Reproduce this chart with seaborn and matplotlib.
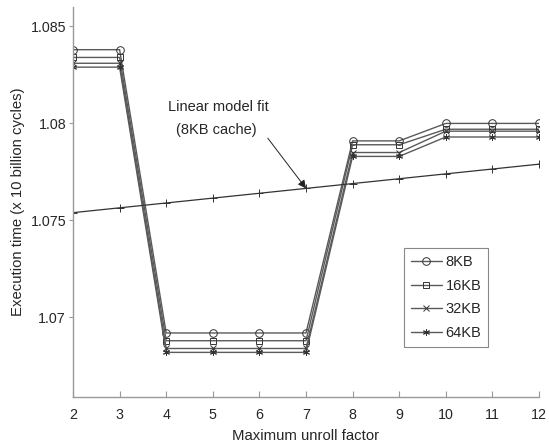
import numpy as np
import pandas as pd
import matplotlib
matplotlib.use("Agg")
import matplotlib.pyplot as plt
import seaborn as sns

# Data
unroll = [2, 3, 4, 5, 6, 7, 8, 9, 10, 11, 12]
time_8kb = [1.0838, 1.0838, 1.0692, 1.0692, 1.0692, 1.0692, 1.0791, 1.0791, 1.0800, 1.0800, 1.0800]
time_16kb = [1.0834, 1.0834, 1.0688, 1.0688, 1.0688, 1.0688, 1.0789, 1.0789, 1.0797, 1.0797, 1.0797]
time_32kb = [1.0831, 1.0831, 1.0684, 1.0684, 1.0684, 1.0684, 1.0785, 1.0785, 1.0796, 1.0796, 1.0796]
time_64kb = [1.0829, 1.0829, 1.0682, 1.0682, 1.0682, 1.0682, 1.0783, 1.0783, 1.0793, 1.0793, 1.0793]
linear_fit = [1.07540, 1.07565, 1.07590, 1.07615, 1.07640, 1.07665,
              1.07690, 1.07715, 1.07740, 1.07765, 1.07790]
y_ticks = [1.07, 1.075, 1.08, 1.085]
y_tick_labels = ["1.07", "1.075", "1.08", "1.085"]

sns.set_style("ticks")
plt.rcParams["font.family"] = ["Liberation Sans", "DejaVu Sans"]
plt.rcParams["font.size"] = 10

fig = plt.figure(figsize=(5.49, 4.46), dpi=100)
ax = fig.add_axes([73 / 549, 1 - 397 / 446, 466 / 549, 390 / 446])

series = [
    ("8KB", time_8kb, "o", 5.5),
    ("16KB", time_16kb, "s", 4.8),
    ("32KB", time_32kb, "x", 4),
    ("64KB", time_64kb, (6, 2, 0), 5),
]
line_col = "#5a5a5a"
for label, vals, mk, ms in series:
    sns.lineplot(x=unroll, y=vals, ax=ax, label=label, color=line_col,
                 linewidth=1.0, marker=mk, markersize=ms,
                 markerfacecolor="none", markeredgecolor="#333333",
                 markeredgewidth=0.7)

sns.lineplot(x=unroll, y=linear_fit, ax=ax, color="#333333", linewidth=0.9,
             marker="+", markersize=6, markeredgecolor="#333333",
             markeredgewidth=0.7, legend=False)

ax.annotate("", xy=(7, linear_fit[5]), xytext=(6.18, 1.07924),
            arrowprops=dict(arrowstyle="-|>", color="#222222", lw=0.7,
                            mutation_scale=12, shrinkA=0, shrinkB=0))
ax.text(5.13, 1.08084, "Linear model fit", ha="center", va="center", fontsize=10.5)
ax.text(5.07, 1.07966, "(8KB cache)", ha="center", va="center", fontsize=10.5)

ax.set_xlim(2, 12)
ax.set_ylim(1.0659, 1.0860)
ax.set_xticks(unroll)
ax.set_yticks(y_ticks)
ax.set_yticklabels(y_tick_labels)
ax.set_xlabel("Maximum unroll factor", fontsize=10.7, labelpad=5)
ax.set_ylabel("Execution time (x 10 billion cycles)", fontsize=10.7)

sns.despine(ax=ax)
for side in ["left", "bottom"]:
    ax.spines[side].set_color("#999999")
    ax.spines[side].set_linewidth(1.0)
ax.tick_params(axis="x", direction="in", length=4, color="#999999", pad=8,
               labelsize=10.3)
ax.tick_params(axis="y", direction="out", length=3, color="#999999", pad=2,
               labelsize=10.3)

leg = ax.legend(loc="upper left", bbox_to_anchor=(0.71, 0.382), frameon=True,
                borderaxespad=0, fancybox=False, edgecolor="#888888",
                framealpha=1, handlelength=2.1, labelspacing=0.65,
                borderpad=0.5, handletextpad=0.25, fontsize=10.5)
leg.get_frame().set_linewidth(0.8)

fig.savefig("out.png", dpi=100)
